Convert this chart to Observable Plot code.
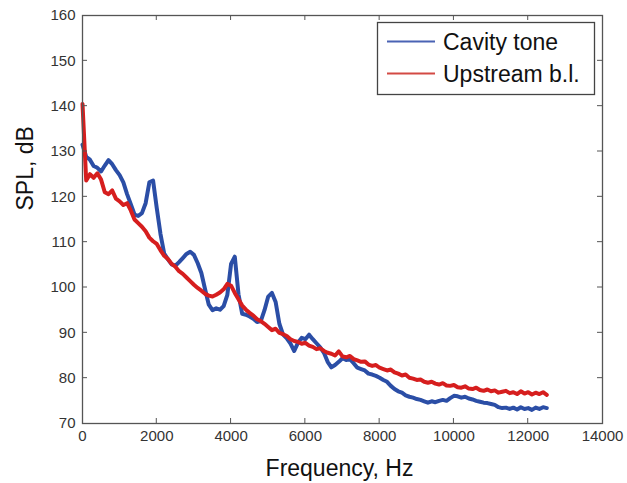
<!DOCTYPE html>
<html>
<head>
<meta charset="utf-8">
<script src="https://cdn.jsdelivr.net/npm/d3@7"></script>
<script src="https://cdn.jsdelivr.net/npm/@observablehq/plot@0.6"></script>
<style>
  html, body { margin: 0; padding: 0; background: #fff; }
  #chart { width: 627px; height: 483px; }
</style>
</head>
<body>
<div id="chart"></div>
<script>
// Frequency grid (Hz)
const freq = [
  0,100,200,300,400,500,600,700,800,900,
  1000,1100,1200,1300,1400,1500,1600,1700,1800,1900,
  2000,2100,2200,2300,2400,2500,2600,2700,2800,2900,
  3000,3100,3200,3300,3400,3500,3600,3700,3800,3900,
  4000,4100,4200,4300,4400,4500,4600,4700,4800,4900,
  5000,5100,5200,5300,5400,5500,5600,5700,5800,5900,
  6000,6100,6200,6300,6400,6500,6600,6700,6800,6900,
  7000,7100,7200,7300,7400,7500,7600,7700,7800,7900,
  8000,8100,8200,8300,8400,8500,8600,8700,8800,8900,
  9000,9100,9200,9300,9400,9500,9600,9700,9800,9900,
  10000,10100,10200,10300,10400,10500,10600,10700,10800,10900,
  11000,11100,11200,11300,11400,11500,11600,11700,11800,11900,
  12000,12100,12200,12300,12400,12500
];

// Cavity tone SPL (dB)
const cavityTone = [
  131.5,128.8,128.2,126.8,126.4,125.6,126.9,128.1,127.2,125.9,
  124.8,123.2,120.6,118.4,116.1,115.8,116.4,118.6,123.2,123.6,
  117.5,111.8,107.5,106.2,105.1,104.8,105.6,106.5,107.4,107.9,
  107.2,105.4,103.2,99.6,96.2,95.0,95.4,95.1,95.9,98.4,
  105.2,106.8,98.5,94.2,94.0,93.6,93.1,92.4,92.6,95.0,
  98.0,98.8,96.8,92.0,89.6,88.8,87.6,86.0,87.8,88.9,
  88.6,89.6,88.6,87.7,86.8,85.6,83.6,82.4,82.9,83.6,
  84.4,84.0,84.2,83.3,82.3,82.0,81.7,81.0,80.8,80.5,
  80.1,79.6,79.2,78.3,77.6,77.1,76.8,76.2,75.9,75.7,
  75.4,75.2,74.9,74.6,74.9,74.7,75.0,75.2,75.0,75.6,
  76.1,76.0,75.7,75.9,75.5,75.3,75.0,74.8,74.6,74.5,
  74.3,74.1,73.6,73.4,73.5,73.2,73.5,73.1,73.6,73.2,
  73.4,73.0,73.5,73.2,73.6,73.4
];

// Upstream boundary layer SPL (dB)
const upstreamBL = [
  140.5,123.6,125.0,124.2,125.2,123.8,121.0,120.6,121.4,119.6,
  119.0,118.2,118.6,117.0,115.0,114.2,113.4,112.4,111.0,110.2,
  109.6,108.2,107.0,106.3,105.2,104.6,103.6,103.0,102.2,101.4,
  100.6,99.9,99.3,98.6,98.2,98.0,98.4,98.9,99.6,100.8,
  100.4,98.8,97.4,96.0,95.1,94.4,93.8,93.0,92.6,92.0,
  91.3,90.6,90.9,90.0,89.7,89.3,88.6,88.2,88.0,87.6,
  87.8,87.2,86.9,86.4,86.6,86.0,85.6,85.4,85.0,85.9,
  84.8,84.6,84.9,84.2,83.9,83.6,83.7,83.0,82.7,82.9,
  82.3,82.0,81.7,81.9,81.3,81.0,80.6,80.8,80.1,79.9,
  79.6,79.7,79.2,79.0,79.2,78.8,78.6,78.9,78.4,78.3,
  78.5,78.0,77.9,78.2,77.7,77.6,77.9,77.4,77.2,77.5,
  77.1,77.3,76.8,77.0,77.2,76.7,76.9,76.5,77.1,76.6,
  76.9,76.4,76.8,76.5,76.9,76.3
];

const xTicks = [0,2000,4000,6000,8000,10000,12000,14000];
const yTicks = [70,80,90,100,110,120,130,140,150,160];
const seriesNames = ["Cavity tone", "Upstream b.l."];
const seriesColors = ["#2b4ea6", "#d61e1e"];
const legendColors = ["#4a63b4", "#d34a44"];

const blueData = freq.map((f, i) => ({f, spl: cavityTone[i]}));
const redData = freq.map((f, i) => ({f, spl: upstreamBL[i]}));

const chart = Plot.plot({
  width: 627,
  height: 483,
  marginLeft: 82,
  marginTop: 15,
  marginRight: 25,
  marginBottom: 60,
  style: {fontFamily: "'Liberation Sans', Arial, sans-serif", fontSize: "15px", color: "#333", background: "#fff"},
  x: {domain: [0, 14000]},
  y: {domain: [70, 160]},
  marks: [
    Plot.line(blueData, {x: "f", y: "spl", stroke: seriesColors[0], strokeWidth: 4, strokeLinejoin: "round"}),
    Plot.line(redData, {x: "f", y: "spl", stroke: seriesColors[1], strokeWidth: 4, strokeLinejoin: "round"}),
    Plot.frame({stroke: "#555", strokeWidth: 1.3}),
    Plot.axisX({ticks: xTicks, tickSize: 0, tickPadding: 7, tickFormat: d => String(d), label: null, fontSize: 15}),
    Plot.axisY({ticks: yTicks, tickSize: 0, tickPadding: 7, tickFormat: d => String(d), label: null, fontSize: 15}),
    Plot.text(["Frequency, Hz"], {frameAnchor: "bottom", dy: 52, dx: -3, lineAnchor: "bottom", fontSize: 23, fill: "#111"}),
    Plot.text(["SPL, dB"], {frameAnchor: "left", rotate: -90, dx: -50, dy: -9, lineAnchor: "bottom", fontSize: 23, fill: "#111"})
  ]
});

document.getElementById("chart").appendChild(chart);

const sx = chart.scale("x");
const sy = chart.scale("y");
const svg = d3.select(chart);

// inward tick marks on all four sides (MATLAB box style), positioned by Plot's scales
const tickLen = 5;
const tg = svg.append("g").attr("stroke", "#555").attr("stroke-width", 1);
const x0 = sx.apply(0), x1 = sx.apply(14000), y0 = sy.apply(70), y1 = sy.apply(160);
xTicks.slice(1, -1).forEach(t => {
  const px = sx.apply(t);
  tg.append("line").attr("x1", px).attr("x2", px).attr("y1", y0).attr("y2", y0 - tickLen);
  tg.append("line").attr("x1", px).attr("x2", px).attr("y1", y1).attr("y2", y1 + tickLen);
});
yTicks.slice(1, -1).forEach(t => {
  const py = sy.apply(t);
  tg.append("line").attr("x1", x0).attr("x2", x0 + tickLen).attr("y1", py).attr("y2", py);
  tg.append("line").attr("x1", x1).attr("x2", x1 - tickLen).attr("y1", py).attr("y2", py);
});

// Legend box (MATLAB-style, inside the axes)
const lg = svg.append("g")
  .attr("font-family", "'Liberation Sans', Arial, sans-serif")
  .attr("text-anchor", "start");
lg.append("rect")
  .attr("x", 377.5).attr("y", 22.5).attr("width", 217).attr("height", 72)
  .attr("fill", "#fff").attr("stroke", "#444").attr("stroke-width", 1.3);
seriesNames.forEach((name, i) => {
  const cy = 41.5 + i * 32;
  lg.append("line")
    .attr("x1", 387).attr("x2", 435).attr("y1", cy).attr("y2", cy)
    .attr("stroke", legendColors[i]).attr("stroke-width", 2.2);
  lg.append("text")
    .attr("x", 443).attr("y", cy + 8.5)
    .attr("font-size", 23).attr("fill", "#111")
    .attr("text-anchor", "start")
    .text(name);
});
</script>
</body>
</html>
